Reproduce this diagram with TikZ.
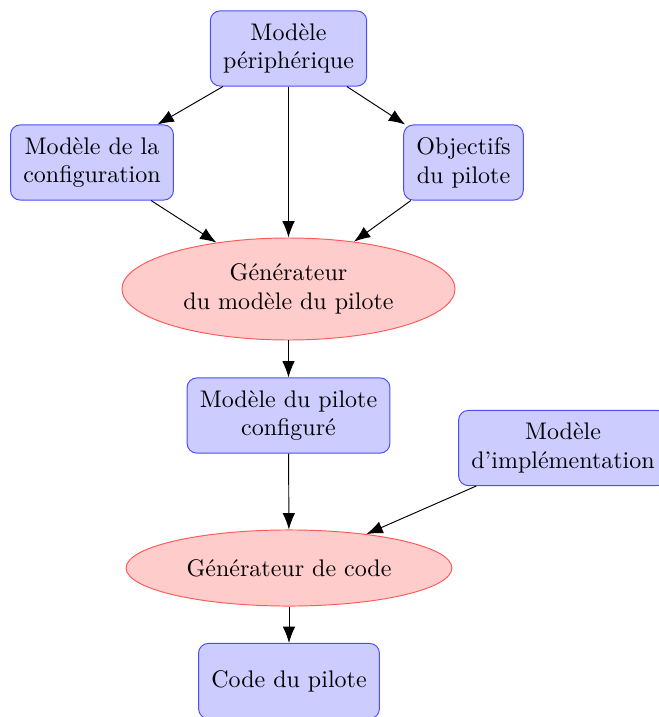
\documentclass[tikz,border=0pt]{standalone}
\usepackage{fontspec}
\usetikzlibrary{arrows.meta,shapes.geometric}
\begin{document}
\begin{tikzpicture}[x=0.4167pt,y=-0.4167pt,
  boxnode/.style={draw=blue!70,fill=blue!20,rounded corners=4pt,align=center,
    inner xsep=5.3pt,inner ysep=3pt,minimum height=31.3pt},
  ellnode/.style={ellipse,draw=red!65,fill=red!20,align=center,inner sep=0pt},
  conn/.style={-{Latex[length=6.8pt,width=5.2pt]}}]
\useasboundingbox (0,0) rectangle (658,717);
\node[boxnode] (periph) at (288.5,48.5) {Modèle\\périphérique};
\node[boxnode] (config) at (92,162.5) {Modèle de la\\configuration};
\node[boxnode] (obj) at (463.5,162.5) {Objectifs\\du pilote};
\node[ellnode,minimum width=138.8pt,minimum height=42.5pt] (gen1) at (288.5,289) {Générateur\\du modèle du pilote};
\node[boxnode] (mpc) at (288.5,415.5) {Modèle du pilote\\configuré};
\node[boxnode] (impl) at (563,448) {Modèle\\d'implémentation};
\node[ellnode,minimum width=135.8pt,minimum height=31.7pt] (gen2) at (289,568) {Générateur de code};
\node[boxnode] (code) at (289,681) {Code du pilote};
\draw[conn] (periph) -- (config);
\draw[conn] (periph) -- (obj);
\draw[conn] (periph) -- (gen1);
\draw[conn] (config) -- (gen1);
\draw[conn] (obj) -- (gen1);
\draw[conn] (gen1) -- (mpc);
\draw[conn] (mpc) -- (gen2);
\draw[conn] (impl) -- (gen2);
\draw[conn] (gen2) -- (code);
\end{tikzpicture}
\end{document}
